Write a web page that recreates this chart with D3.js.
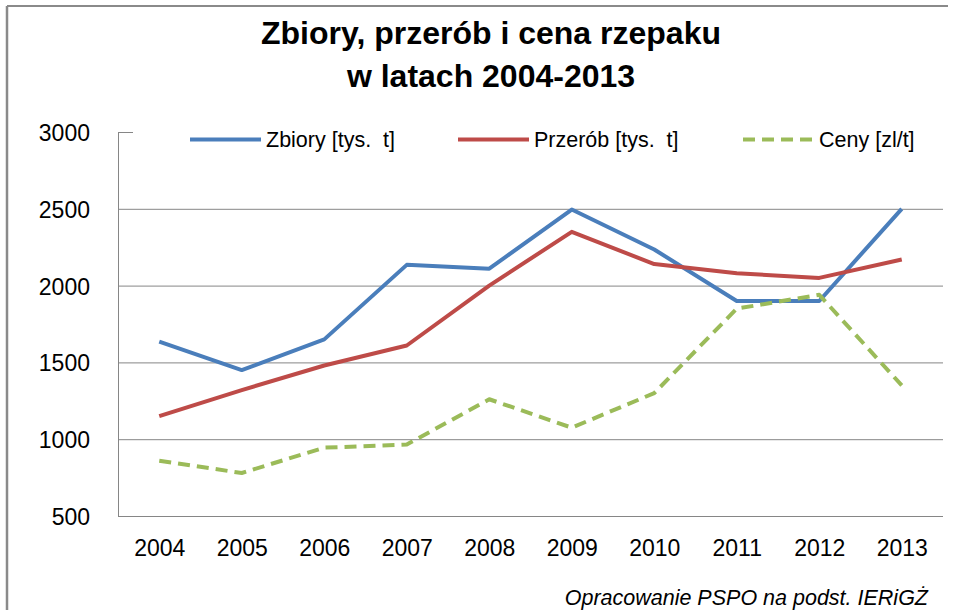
<!DOCTYPE html>
<html>
<head>
<meta charset="utf-8">
<script src="https://cdn.jsdelivr.net/npm/d3@7"></script>
<style>
  body { margin: 0; background: #fff; }
  svg { font-family: "Liberation Sans", Arial, sans-serif; display: block; }
  .legend text { white-space: pre; }
</style>
</head>
<body>
<div id="chart"></div>
<script>
// Data
const years = [2004, 2005, 2006, 2007, 2008, 2009, 2010, 2011, 2012, 2013];
const zbiory = [1635, 1450, 1650, 2135, 2110, 2495, 2235, 1900, 1900, 2500];
const przerob = [1150, 1320, 1480, 1610, 2000, 2350, 2140, 2080, 2050, 2170];
const ceny = [860, 780, 945, 965, 1260, 1075, 1300, 1850, 1940, 1350];
const yTicks = [500, 1000, 1500, 2000, 2500, 3000];
const seriesNames = ["Zbiory [tys.  t]", "Przerób [tys.  t]", "Ceny [zl/t]"];
const titleLines = ["Zbiory, przerób i cena rzepaku", "w latach 2004-2013"];
const source = "Opracowanie PSPO na podst. IERiGŻ";

const W = 958, H = 610;
const plot = { left: 118, right: 943, top: 132, bottom: 516 };

const svg = d3.select("#chart")
    .append("svg")
    .attr("width", W)
    .attr("height", H);

// outer frame (top + left only)
svg.append("line")
    .attr("x1", 7).attr("x2", 948).attr("y1", 6).attr("y2", 6)
    .attr("stroke", "#8a8a8a").attr("stroke-width", 2);
svg.append("line")
    .attr("x1", 7).attr("x2", 7).attr("y1", 6).attr("y2", H)
    .attr("stroke", "#8a8a8a").attr("stroke-width", 2.5);

// Title
svg.append("g")
    .selectAll("text")
    .data(titleLines)
    .enter()
    .append("text")
    .attr("x", 491)
    .attr("y", (d, i) => 44 + i * 43)
    .attr("text-anchor", "middle")
    .attr("font-size", 32)
    .attr("font-weight", "bold")
    .text(d => d);

// Scales
const x = d3.scalePoint()
    .domain(years)
    .range([plot.left, plot.right])
    .padding(0.5);

const y = d3.scaleLinear()
    .domain([500, 3000])
    .range([plot.bottom, plot.top]);

// Y axis with gridlines
const yAxis = svg.append("g")
    .attr("transform", `translate(${plot.left},0)`)
    .call(d3.axisLeft(y)
        .tickValues(yTicks)
        .tickSize(-(plot.right - plot.left))
        .tickSizeOuter(0)
        .tickPadding(28)
        .tickFormat(d3.format("d")));
yAxis.select(".domain").attr("stroke", "#868686");
yAxis.selectAll(".tick line").attr("stroke", "#868686");
yAxis.selectAll(".tick text")
    .attr("font-size", 23)
    .attr("fill", "#000")
    .attr("dy", "0.37em")
    .attr("font-family", "'Liberation Sans', Arial, sans-serif");

// X axis
const xAxis = svg.append("g")
    .attr("transform", `translate(0,${plot.bottom})`)
    .call(d3.axisBottom(x).tickSize(0).tickPadding(24));
xAxis.select(".domain").remove();
xAxis.selectAll(".tick text")
    .attr("font-size", 23)
    .attr("fill", "#000")
    .attr("font-family", "'Liberation Sans', Arial, sans-serif");

// Legend (white box hides top gridline like the original)
const legend = svg.append("g").attr("class", "legend");
legend.append("rect")
    .attr("x", 133).attr("y", 120)
    .attr("width", 815).attr("height", 38)
    .attr("fill", "#fff");

const series = [
    { name: seriesNames[0], values: zbiory, color: "#4A7EBB", dash: null, lx: 190 },
    { name: seriesNames[1], values: przerob, color: "#BE4B48", dash: null, lx: 458 },
    { name: seriesNames[2], values: ceny, color: "#9BBB59", dash: "12,7", lx: 743 }
];

const item = legend.selectAll(".item")
    .data(series)
    .enter()
    .append("g")
    .attr("class", "item");
item.append("line")
    .attr("x1", d => d.lx).attr("x2", d => d.lx + 71)
    .attr("y1", 139.5).attr("y2", 139.5)
    .attr("stroke", d => d.color)
    .attr("stroke-width", 4)
    .attr("stroke-dasharray", d => d.dash);
item.append("text")
    .attr("x", d => d.lx + 76)
    .attr("y", 147)
    .attr("font-size", 21.5)
    .text(d => d.name);

// Lines
const line = d3.line()
    .x((d, i) => x(years[i]))
    .y(d => y(d));

svg.append("g")
    .selectAll("path")
    .data(series)
    .enter()
    .append("path")
    .attr("d", d => line(d.values))
    .attr("fill", "none")
    .attr("stroke", d => d.color)
    .attr("stroke-width", 4)
    .attr("stroke-linejoin", "round")
    .attr("stroke-dasharray", d => d.dash);

// Source note
svg.append("text")
    .attr("x", 928)
    .attr("y", 605)
    .attr("text-anchor", "end")
    .attr("font-size", 21.5)
    .attr("font-style", "italic")
    .text(source);
</script>
</body>
</html>
